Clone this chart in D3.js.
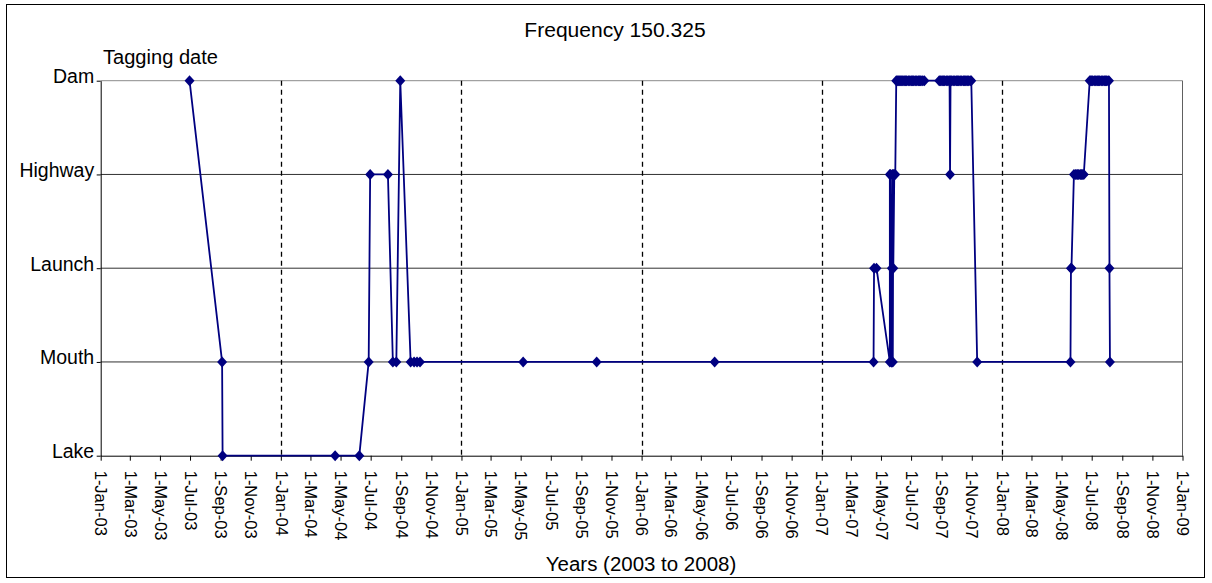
<!DOCTYPE html>
<html>
<head>
<meta charset="utf-8">
<script src="https://cdn.jsdelivr.net/npm/d3@7"></script>
<style>
  html, body { margin: 0; padding: 0; background: #fff; }
  svg { display: block; }
  text { font-family: Arial, "Liberation Sans", sans-serif; fill: #000; }
</style>
</head>
<body>
<svg id="chart" width="1212" height="583"></svg>
<script>
// ---------------- data ----------------
const title = "Frequency 150.325";
const xTitle = "Years (2003 to 2008)";
const annotation = "Tagging date";
const categories = ["Lake", "Mouth", "Launch", "Highway", "Dam"];

const detectionDates = [
  "2003-06-30", "2003-09-04", "2003-09-05",
  "2004-04-20", "2004-06-08", "2004-06-27", "2004-06-30", "2004-08-05",
  "2004-08-15", "2004-08-22", "2004-08-30", "2004-09-20", "2004-09-27",
  "2004-10-03", "2004-10-09",
  "2005-05-06", "2005-10-02", "2006-05-29",
  "2007-04-16", "2007-04-17", "2007-04-22", "2007-05-19", "2007-05-19",
  "2007-05-20", "2007-05-22", "2007-05-23", "2007-05-23", "2007-05-24",
  "2007-05-25", "2007-05-26", "2007-05-26", "2007-05-28", "2007-05-30",
  "2007-06-01", "2007-06-03", "2007-06-05", "2007-06-07", "2007-06-09",
  "2007-06-11", "2007-06-13", "2007-06-15", "2007-06-18", "2007-06-20",
  "2007-06-22", "2007-06-25", "2007-06-27", "2007-06-29", "2007-07-02",
  "2007-07-04", "2007-07-06", "2007-07-09", "2007-07-11", "2007-07-13",
  "2007-07-16", "2007-07-18", "2007-07-20", "2007-07-23", "2007-07-25",
  "2007-07-28",
  "2007-08-27", "2007-08-29", "2007-08-31", "2007-09-03", "2007-09-05",
  "2007-09-07", "2007-09-10", "2007-09-12", "2007-09-14", "2007-09-17",
  "2007-09-18", "2007-09-19", "2007-09-21", "2007-09-24", "2007-09-26",
  "2007-09-28", "2007-10-01", "2007-10-03", "2007-10-05", "2007-10-08",
  "2007-10-10", "2007-10-12", "2007-10-15", "2007-10-17", "2007-10-19",
  "2007-10-22", "2007-10-24", "2007-10-26", "2007-10-29", "2007-10-31",
  "2007-11-12",
  "2008-05-19", "2008-05-20", "2008-05-21", "2008-05-26", "2008-05-29",
  "2008-06-01", "2008-06-03", "2008-06-05", "2008-06-08", "2008-06-10",
  "2008-06-12", "2008-06-15", "2008-06-27", "2008-06-29", "2008-07-01",
  "2008-07-03", "2008-07-06", "2008-07-08", "2008-07-10", "2008-07-13",
  "2008-07-15", "2008-07-17", "2008-07-20", "2008-07-22", "2008-07-24",
  "2008-07-27", "2008-07-29", "2008-07-31", "2008-08-03", "2008-08-05",
  "2008-08-06", "2008-08-07"
];

const detectionSites = [
  "Dam", "Mouth", "Lake",
  "Lake", "Lake", "Mouth", "Highway", "Highway",
  "Mouth", "Mouth", "Dam", "Mouth", "Mouth",
  "Mouth", "Mouth",
  "Mouth", "Mouth", "Mouth",
  "Mouth", "Launch", "Launch", "Mouth", "Highway",
  "Highway", "Mouth", "Launch", "Mouth", "Highway",
  "Mouth", "Highway", "Launch", "Highway", "Highway",
  "Dam", "Dam", "Dam", "Dam", "Dam",
  "Dam", "Dam", "Dam", "Dam", "Dam",
  "Dam", "Dam", "Dam", "Dam", "Dam",
  "Dam", "Dam", "Dam", "Dam", "Dam",
  "Dam", "Dam", "Dam", "Dam", "Dam",
  "Dam",
  "Dam", "Dam", "Dam", "Dam", "Dam",
  "Dam", "Dam", "Dam", "Dam", "Dam",
  "Highway", "Dam", "Dam", "Dam", "Dam",
  "Dam", "Dam", "Dam", "Dam", "Dam",
  "Dam", "Dam", "Dam", "Dam", "Dam",
  "Dam", "Dam", "Dam", "Dam", "Dam",
  "Mouth",
  "Mouth", "Launch", "Launch", "Highway", "Highway",
  "Highway", "Highway", "Highway", "Highway", "Highway",
  "Highway", "Highway", "Dam", "Dam", "Dam",
  "Dam", "Dam", "Dam", "Dam", "Dam",
  "Dam", "Dam", "Dam", "Dam", "Dam",
  "Dam", "Dam", "Dam", "Dam", "Dam",
  "Launch", "Mouth"
];

const xDomain = ["2003-01-01", "2009-01-01"];
const yearLines = ["2004-01-01", "2005-01-01", "2006-01-01", "2007-01-01", "2008-01-01"];
const tickDates = [
  "2003-01-01", "2003-03-01", "2003-05-01", "2003-07-01", "2003-09-01", "2003-11-01",
  "2004-01-01", "2004-03-01", "2004-05-01", "2004-07-01", "2004-09-01", "2004-11-01",
  "2005-01-01", "2005-03-01", "2005-05-01", "2005-07-01", "2005-09-01", "2005-11-01",
  "2006-01-01", "2006-03-01", "2006-05-01", "2006-07-01", "2006-09-01", "2006-11-01",
  "2007-01-01", "2007-03-01", "2007-05-01", "2007-07-01", "2007-09-01", "2007-11-01",
  "2008-01-01", "2008-03-01", "2008-05-01", "2008-07-01", "2008-09-01", "2008-11-01",
  "2009-01-01"
];

// ---------------- layout ----------------
const plot = { left: 100.7, right: 1182.5, top: 80.7, bottom: 455.7 };
const navy = "#000080";

const parse = d3.utcParse("%Y-%m-%d");
const fmt = d3.utcFormat("%-d-%b-%y");

const data = detectionDates.map((d, i) => ({ date: parse(d), site: detectionSites[i] }));

const x = d3.scaleUtc().domain(xDomain.map(parse)).range([plot.left, plot.right]);
const y = d3.scalePoint().domain(categories).range([plot.bottom, plot.top]);

const svg = d3.select("#chart");

// outer frame
svg.append("rect")
  .attr("x", 6.5).attr("y", 4.5).attr("width", 1198).attr("height", 573)
  .attr("fill", "#fff").attr("stroke", "#000").attr("stroke-width", 1);

// title
svg.append("text")
  .attr("text-anchor", "middle")
  .style("font-size", "19.5px")
  .attr("transform", "translate(615,37) scale(1.08,1)")
  .text(title);

// horizontal gridlines
svg.append("g").selectAll("line")
  .data(categories.slice(1))
  .join("line")
  .attr("x1", plot.left).attr("x2", plot.right)
  .attr("y1", d => y(d)).attr("y2", d => y(d))
  .attr("stroke", d => d === "Dam" ? "#8c8c8c" : "#303030")
  .attr("stroke-width", 1);

// right plot border
svg.append("line")
  .attr("x1", plot.right).attr("x2", plot.right)
  .attr("y1", plot.top).attr("y2", plot.bottom)
  .attr("stroke", "#606060").attr("stroke-width", 1);

// dashed year lines
svg.append("g").selectAll("line")
  .data(yearLines.map(parse))
  .join("line")
  .attr("x1", d => Math.round(x(d)) + 0.5).attr("x2", d => Math.round(x(d)) + 0.5)
  .attr("y1", plot.top).attr("y2", plot.bottom)
  .attr("stroke", "#000").attr("stroke-width", 1.3)
  .attr("stroke-dasharray", "5,4");

// x axis
const xAxis = d3.axisBottom(x)
  .tickValues(tickDates.map(parse))
  .tickFormat(fmt)
  .tickSize(5)
  .tickSizeOuter(0);
const gx = svg.append("g").attr("transform", `translate(0,${plot.bottom})`).call(xAxis);
gx.select(".domain").attr("stroke", "#000");
gx.selectAll(".tick line").attr("stroke", "#000");
gx.selectAll(".tick text")
  .attr("text-anchor", "start")
  .attr("transform", "translate(0,15) rotate(90)")
  .attr("x", 0).attr("y", 0).attr("dy", "0.35em")
  .style("font-family", "Arial, 'Liberation Sans', sans-serif")
  .style("font-size", "16.5px")
  .attr("fill", "#000");

// y axis
const yAxis = d3.axisLeft(y).tickSize(4).tickSizeOuter(0).tickPadding(2.5);
const gy = svg.append("g").attr("transform", `translate(${plot.left},0)`).call(yAxis);
gy.select(".domain").attr("stroke", "#000");
gy.selectAll(".tick line").attr("stroke", "#000");
gy.selectAll(".tick text")
  .attr("dy", "0.1em")
  .style("font-family", "Arial, 'Liberation Sans', sans-serif")
  .style("font-size", "19.5px")
  .attr("fill", "#000");

// x-axis title
svg.append("text")
  .attr("text-anchor", "middle")
  .style("font-size", "19.5px")
  .attr("transform", "translate(641,571) scale(1.05,1)")
  .text(xTitle);

// annotation
svg.append("text")
  .style("font-size", "19.5px")
  .attr("transform", "translate(103,64) scale(1.03,1)")
  .text(annotation);

// series line
const line = d3.line().x(d => x(d.date)).y(d => y(d.site));
svg.append("path")
  .datum(data)
  .attr("d", line)
  .attr("fill", "none")
  .attr("stroke", navy)
  .attr("stroke-width", 1.8)
  .attr("stroke-linejoin", "round");

// diamond markers
const diamond = "M0,-5.5L5,0L0,5.5L-5,0Z";
svg.append("g").selectAll("path")
  .data(data)
  .join("path")
  .attr("d", diamond)
  .attr("transform", d => `translate(${x(d.date)},${y(d.site)})`)
  .attr("fill", navy);
</script>
</body>
</html>
